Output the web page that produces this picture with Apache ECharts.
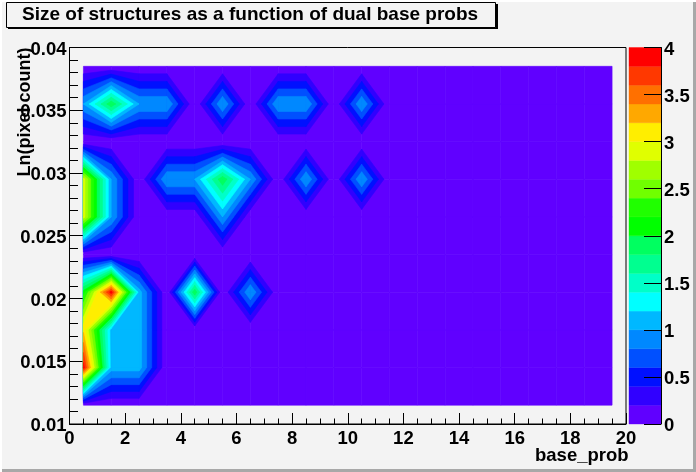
<!DOCTYPE html>
<html><head><meta charset="utf-8">
<style>html,body{margin:0;padding:0;background:#fff}#c{width:696px;height:472px}</style>
<script src="https://cdn.jsdelivr.net/npm/echarts@6/dist/echarts.min.js"></script>
</head><body><div id="c"></div>
<script>
const titleText = 'Size of structures as a function of dual base probs';
const xName = 'base_prob';
const yName = 'Ln(pixel count)';
const xCenters = [0.5,1.5,2.5,3.5,4.5,5.5,6.5,7.5,8.5,9.5,10.5,11.5,12.5,13.5,14.5,15.5,16.5,17.5,18.5,19.5];
const yCenters = [0.0115,0.0145,0.0175,0.0205,0.0235,0.0265,0.0295,0.0325,0.0355,0.0385];
const row0115 = [0,0,0,0,0,0,0,0,0,0,0,0,0,0,0,0,0,0,0,0];
const row0145 = [3.9,1.1,1.1,0,0,0,0,0,0,0,0,0,0,0,0,0,0,0,0,0];
const row0175 = [3.15,1.1,1.1,0,0,0,0,0,0,0,0,0,0,0,0,0,0,0,0,0];
const row0205 = [2.1,3.9,1.1,0,1.95,0,1,0,0,0,0,0,0,0,0,0,0,0,0,0];
const row0235 = [0,0,0,0,0,0,0,0,0,0,0,0,0,0,0,0,0,0,0,0];
const row0265 = [2.9,1,0,0,0,1,0,0,0,0,0,0,0,0,0,0,0,0,0,0];
const row0295 = [2.9,1,0,1,1,1.95,1,0,1,0,1,0,0,0,0,0,0,0,0,0];
const row0325 = [0,0,0,0,0,0,0,0,0,0,0,0,0,0,0,0,0,0,0,0];
const row0355 = [1,1.95,1,1,0,1,0,1,1,0,1,0,0,0,0,0,0,0,0,0];
const row0385 = [0,0,0,0,0,0,0,0,0,0,0,0,0,0,0,0,0,0,0,0];
const rows = [row0115,row0145,row0175,row0205,row0235,row0265,row0295,row0325,row0355,row0385];
const levels = [0,0.2,0.4,0.6,0.8,1,1.2,1.4,1.6,1.8,2,2.2,2.4,2.6,2.8,3,3.2,3.4,3.6,3.8,4];
const palette = ['#6000ff','#3000ff','#0010ff','#0050ff','#0088ff','#00b8ff','#00ffff','#00ffc8','#00ff90','#00ff60','#00ff00','#20ff00','#70ff00','#a0ff00','#e0ff00','#ffee00','#ffa800','#ff7000','#ff3800','#ff0000'];

// Cells [level, i, j]: painted lowest level first
const cells = [];
levels.slice(0,-1).forEach((L,k)=>{
  for(let j=0;j<yCenters.length-1;j++) for(let i=0;i<xCenters.length-1;i++){
    const m=Math.max(rows[j][i],rows[j][i+1],rows[j+1][i],rows[j+1][i+1]);
    if(k===0||m>L) cells.push([k,i,j]);
  }
});
function clipAbove(poly,L){
  const out=[];
  for(let a=0;a<poly.length;a++){
    const p=poly[a],q=poly[(a+1)%poly.length];
    const pin=p[2]>=L,qin=q[2]>=L;
    if(pin) out.push(p);
    if(pin!==qin){const t=(L-p[2])/(q[2]-p[2]);
      out.push([p[0]+t*(q[0]-p[0]),p[1]+t*(q[1]-p[1]),L]);}
  }
  return out;
}
function renderContour(params,api){
  const k=api.value(0),i=api.value(1),j=api.value(2);
  const quad=[[i,j],[i+1,j],[i+1,j+1],[i,j+1]].map(([a,b])=>[xCenters[a],yCenters[b],rows[b][a]]);
  const poly=k===0?quad:clipAbove(quad,levels[k]);
  if(poly.length<3) return null;
  const pts=poly.map(p=>api.coord([p[0],p[1]]));
  return {type:'polygon',shape:{points:pts},style:{fill:palette[k],stroke:palette[k],lineWidth:0.6}};
}
function renderBand(params,api){
  const k=api.value(0);
  const a=api.coord([0,levels[k]]),b=api.coord([1,levels[k+1]]);
  return {type:'rect',shape:{x:a[0],y:b[1],width:b[0]-a[0],height:a[1]-b[1]},style:{fill:palette[k],stroke:palette[k],lineWidth:0.4}};
}
const font={fontFamily:'Liberation Sans',fontWeight:'bold',color:'#000'};
const richLabel={a:{...font,fontSize:18.5,padding:[4,0,0,0]}};
const chart=echarts.init(document.getElementById('c'),null,{renderer:'canvas',devicePixelRatio:1});
chart.setOption({
  animation:false,
  backgroundColor:'#ffffff',
  graphic:[
    {type:'rect',z:-10,shape:{x:2,y:2,width:694,height:470},style:{fill:'#a8a8a8'}},
    {type:'rect',z:-9,shape:{x:2,y:2,width:691,height:467},style:{fill:'#f3f3f3'}},
    {type:'rect',z:-8,shape:{x:8,y:4,width:490,height:25},style:{fill:'#000'}},
    {type:'rect',z:-7,shape:{x:6.5,y:2.5,width:489,height:25},style:{fill:'#f3f3f3',stroke:'#000',lineWidth:1}},
    {type:'text',z:-6,style:{x:22,y:15,text:titleText,textVerticalAlign:'middle',font:'bold 19px "Liberation Sans"',fill:'#000'}}
  ],
  grid:[
    {left:69.5,right:70,top:47.5,bottom:48,outerBoundsMode:'none',containLabel:false,show:true,backgroundColor:'transparent',borderColor:'#000',borderWidth:1},
    {left:629,right:35,top:47.5,bottom:48,outerBoundsMode:'none',containLabel:false,show:false}
  ],
  xAxis:[
    {gridIndex:0,type:'value',min:0,max:20,interval:2,name:xName,nameLocation:'end',nameMoveOverlap:false,
     nameTextStyle:{...font,fontSize:18.5,align:'left',verticalAlign:'top',padding:[22,0,0,0]},nameGap:-91,
     axisLine:{onZero:false,lineStyle:{color:'#000',width:1}},
     axisTick:{inside:true,length:11,lineStyle:{color:'#000',width:1}},
     minorTick:{show:true,splitNumber:4,length:5.5,lineStyle:{color:'#000',width:1}},
     axisLabel:{...font,fontSize:18.5,margin:5,showMinLabel:true,showMaxLabel:true,hideOverlap:false},
     splitLine:{show:false}},
    {gridIndex:1,type:'value',min:0,max:1,show:false}
  ],
  yAxis:[
    {gridIndex:0,type:'value',min:0.01,max:0.04,interval:0.005,name:yName,nameLocation:'end',nameRotate:90,nameMoveOverlap:false,
     nameTextStyle:{...font,fontSize:18,align:'left',verticalAlign:'bottom',padding:[0,0,35,0]},nameGap:-129,
     axisLine:{onZero:false,lineStyle:{color:'#000',width:1}},
     axisTick:{inside:true,length:17,lineStyle:{color:'#000',width:1}},
     minorTick:{show:true,splitNumber:5,length:8.5,lineStyle:{color:'#000',width:1}},
     axisLabel:{...font,fontSize:18.5,margin:3,rich:richLabel,formatter:v=>'{a|'+(+v.toFixed(3))+'}',showMinLabel:true,showMaxLabel:true,hideOverlap:false},
     splitLine:{show:false}},
    {gridIndex:1,type:'value',min:0,max:4,interval:0.5,position:'right',z:5,
     axisLine:{show:true,onZero:false,lineStyle:{color:'#000',width:1}},
     axisTick:{inside:true,length:17,lineStyle:{color:'#000',width:1}},
     axisLabel:{...font,fontSize:18.5,margin:3,rich:richLabel,formatter:v=>'{a|'+v+'}',showMinLabel:true,showMaxLabel:true,hideOverlap:false},
     splitLine:{show:false}}
  ],
  series:[
    {type:'custom',xAxisIndex:0,yAxisIndex:0,data:cells,renderItem:renderContour,clip:true,silent:true,progressive:0,encode:{x:[],y:[]}},
    {type:'custom',xAxisIndex:1,yAxisIndex:1,data:palette.map((c,k)=>[k]),renderItem:renderBand,silent:true,encode:{x:[],y:[]}}
  ]
});
</script></body></html>
